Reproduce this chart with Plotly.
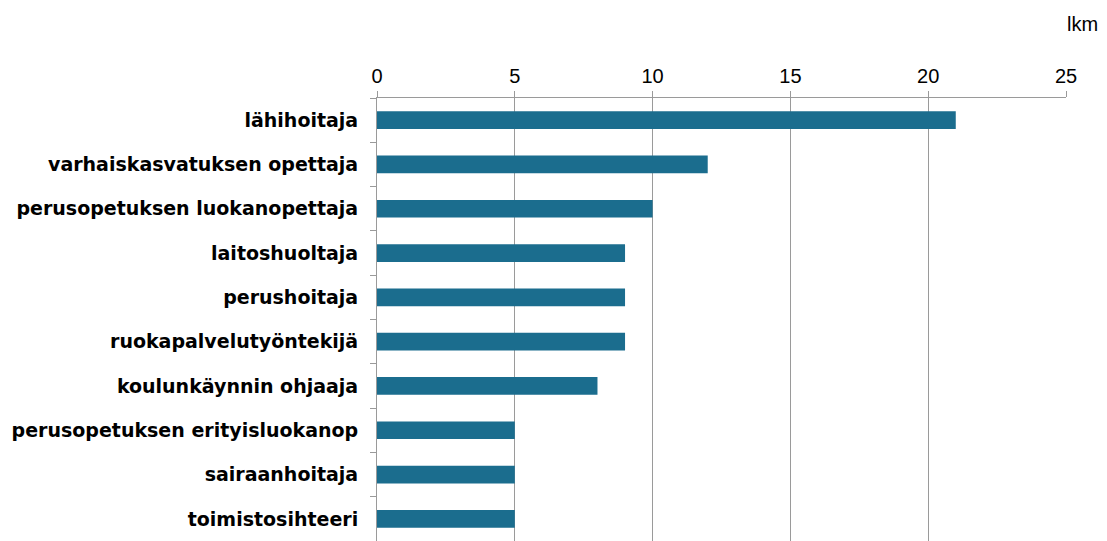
import plotly.graph_objects as go

categories = ["lähihoitaja", "varhaiskasvatuksen opettaja", "perusopetuksen luokanopettaja",
              "laitoshuoltaja", "perushoitaja", "ruokapalvelutyöntekijä",
              "koulunkäynnin ohjaaja", "perusopetuksen erityisluokanop",
              "sairaanhoitaja", "toimistosihteeri"]
values = [21, 12, 10, 9, 9, 9, 8, 5, 5, 5]
x_ticks = [0, 5, 10, 15, 20, 25]

fig = go.Figure(go.Bar(
    x=values, y=categories, orientation="h",
    marker=dict(color="#1b6d8e", line=dict(width=0)),
    width=0.4,
))

fig.update_layout(
    width=1107, height=541,
    margin=dict(l=377, r=41, t=98, b=0),
    plot_bgcolor="white", paper_bgcolor="white",
    showlegend=False,
    xaxis=dict(
        side="top", range=[0, 25], tickvals=x_ticks,
        showgrid=True, gridcolor="#9a9a9a", gridwidth=1,
        showline=True, linecolor="#9a9a9a", linewidth=1,
        ticks="outside", ticklen=6, tickcolor="#9a9a9a",
        tickfont=dict(family="Liberation Sans, Arial", size=20, color="#000"),
        zeroline=False, fixedrange=True,
    ),
    yaxis=dict(
        autorange="reversed", type="category",
        showline=True, linecolor="#9a9a9a", linewidth=1,
        ticks="outside", ticklen=6, tickcolor="#9a9a9a", tickson="boundaries",
        showgrid=False,
        tickfont=dict(family="DejaVu Sans", size=19, color="#000", weight="bold"),
        ticklabelstandoff=14,
    ),
    annotations=[dict(text="lkm", xref="paper", yref="paper", x=1.0, y=1.0,
                      xanchor="left", yanchor="bottom", yshift=61, xshift=-1,
                      showarrow=False,
                      font=dict(family="Liberation Sans, Arial", size=20, color="#000"))],
)

fig.write_html("out.html", config={"displayModeBar": False},
               post_script="document.body.style.margin='0';")
